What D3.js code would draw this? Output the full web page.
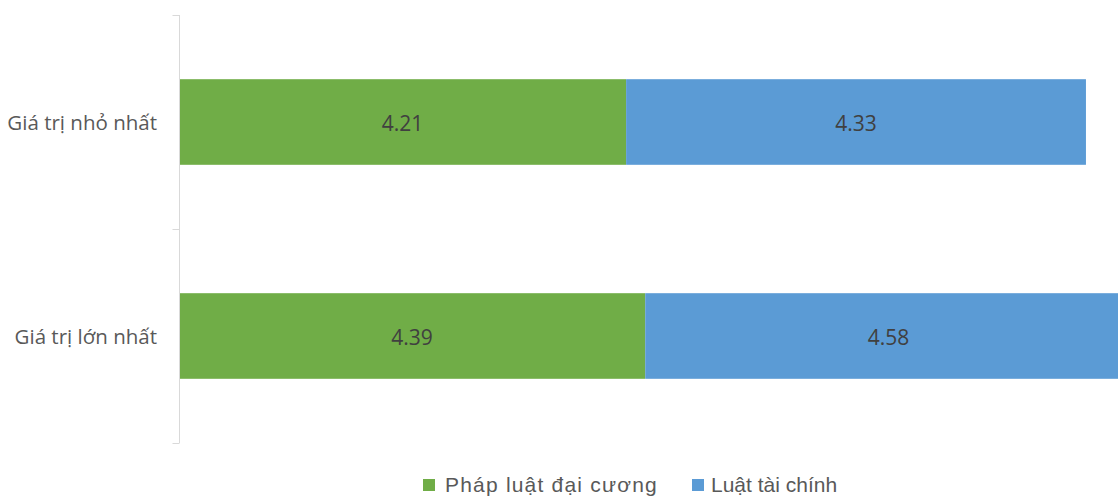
<!DOCTYPE html>
<html><head><meta charset="utf-8">
<script src="https://cdn.jsdelivr.net/npm/d3@7"></script>
<style>body{margin:0;background:#fff;overflow:hidden}</style>
</head><body>
<svg id="c" width="1118" height="497"></svg>
<script>
const categories = ["Giá trị nhỏ nhất", "Giá trị lớn nhất"];
const seriesNames = ["Pháp luật đại cương", "Luật tài chính"];
const phapLuat = [4.21, 4.39];
const luatTaiChinh = [4.33, 4.58];
const colors = ["#70AD47", "#5B9BD5"];

const svg = d3.select("#c");
const x = d3.scaleLinear().domain([0, 10]).range([179, 179 + 1062]);
const y = d3.scaleBand().domain(categories).range([15, 443]).paddingInner(0.6).paddingOuter(0.3);
const yb = d3.scaleBand().domain(categories).range([15, 443]);

const rows = categories.map((c, i) => ({cat: c, vals: [phapLuat[i], luatTaiChinh[i]]}));
rows.forEach(r => {
  let acc = 0;
  r.vals.forEach((v, j) => {
    const x0 = acc, x1 = acc + v; acc = x1;
    svg.append("rect").attr("x", x(x0)).attr("width", x(x1) - x(x0))
      .attr("y", y(r.cat)).attr("height", y.bandwidth()).attr("fill", colors[j]);
    svg.append("text").attr("x", (x(x0) + x(x1)) / 2).attr("y", y(r.cat) + y.bandwidth() / 2 + 1)
      .attr("text-anchor", "middle").attr("dominant-baseline", "central")
      .attr("font-family", "Open Sans").attr("font-size", 21).attr("fill", "#404040")
      .text(v.toFixed(2));
  });
});

// axis
const g = svg.append("g").attr("transform", "translate(179.5,0)");
g.append("line").attr("x1", 0).attr("x2", 0).attr("y1", 15).attr("y2", 443).attr("stroke", "#d9d9d9");
yb.domain().map(c => yb(c)).concat([443]).forEach(t => g.append("line").attr("x1", -7).attr("x2", 0).attr("y1", t + 0.5).attr("y2", t + 0.5).attr("stroke", "#d9d9d9"));
categories.forEach(c => {
  svg.append("text").attr("x", 157).attr("y", yb(c) + yb.bandwidth() / 2)
    .attr("text-anchor", "end").attr("dominant-baseline", "central")
    .attr("font-family", "Open Sans").attr("font-size", 20.5).attr("fill", "#595959").text(c);
});

// legend
const leg = [{x: 423, tx: 445, fs: 21, ls: 1.2}, {x: 692, tx: 711, fs: 21, ls: 0}];
seriesNames.forEach((s, i) => {
  svg.append("rect").attr("x", leg[i].x).attr("y", 479).attr("width", 12).attr("height", 12).attr("fill", colors[i]);
  svg.append("text").attr("x", leg[i].tx).attr("y", 492).attr("font-family", "Liberation Sans")
    .attr("font-size", leg[i].fs).attr("letter-spacing", leg[i].ls).attr("fill", "#595959").text(s);
});
</script>
</body></html>
